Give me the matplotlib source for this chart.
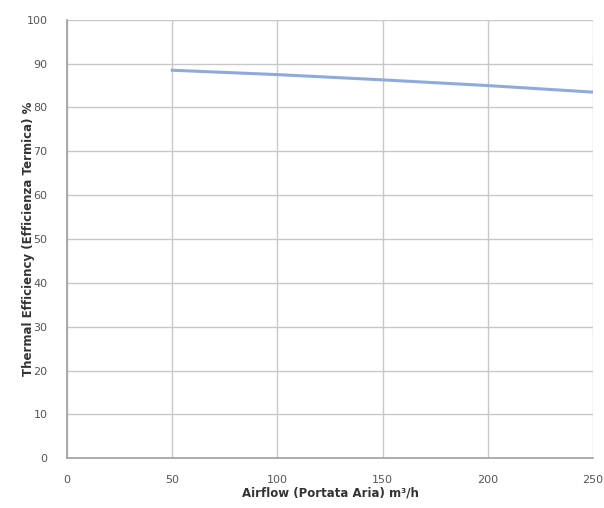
import matplotlib
matplotlib.use("Agg")
import matplotlib.pyplot as plt

# airflow m3/h vs thermal efficiency %
airflow = [50, 100, 150, 200, 250]
efficiency = [88.5, 87.5, 86.3, 85.0, 83.5]
x_ticks = [0, 50, 100, 150, 200, 250]
y_ticks = [0, 10, 20, 30, 40, 50, 60, 70, 80, 90, 100]

fig = plt.figure(figsize=(6.04, 5.08), dpi=100)
ax = fig.add_axes([0.111, 0.098, 0.871, 0.863])

ax.plot(airflow, efficiency, color="#8eaadb", linewidth=2.2)

ax.set_xlim(0, 250)
ax.set_ylim(0, 100)
ax.set_xticks(x_ticks)
ax.set_yticks(y_ticks)
ax.grid(True, color="#c8c8c8", linewidth=1.0)
ax.set_axisbelow(True)

for side in ["top", "right"]:
    ax.spines[side].set_visible(False)
for side in ["left", "bottom"]:
    ax.spines[side].set_color("#a0a0a0")
    ax.spines[side].set_linewidth(1.2)

ax.tick_params(axis="y", length=0, labelsize=8, labelcolor="#555555", pad=14)
ax.tick_params(axis="x", length=0, labelsize=8, labelcolor="#555555", pad=12)
ax.set_xlabel("Airflow (Portata Aria) m³/h", fontsize=8.5, fontweight="bold",
              color="#333333", labelpad=1)
ax.set_ylabel("Thermal Efficiency (Efficienza Termica) %", fontsize=8.5,
              fontweight="bold", color="#333333", labelpad=-6)

fig.savefig("out.png", dpi=100)
